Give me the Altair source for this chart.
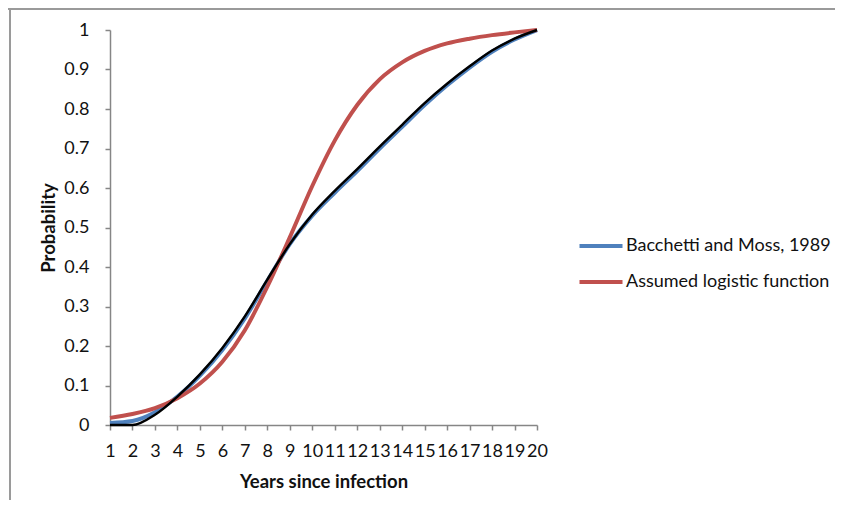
import altair as alt
import pandas as pd

years = list(range(1, 21))
bacchetti = [0.005, 0.010, 0.032, 0.072, 0.125, 0.190, 0.270, 0.365, 0.458, 0.530,
             0.588, 0.643, 0.700, 0.755, 0.810, 0.860, 0.905, 0.945, 0.976, 1.000]
logistic = [0.018, 0.028, 0.043, 0.068, 0.105, 0.160, 0.240, 0.350, 0.475, 0.605,
            0.720, 0.810, 0.875, 0.918, 0.947, 0.966, 0.978, 0.987, 0.994, 1.000]
fitted = [0.000, 0.000, 0.026, 0.072, 0.128, 0.195, 0.275, 0.368, 0.458, 0.533,
          0.593, 0.648, 0.705, 0.760, 0.815, 0.864, 0.908, 0.948, 0.978, 1.000]
series_names = ["Bacchetti and Moss, 1989", "Assumed logistic function"]
series_colors = ["#4F81BD", "#C0504D"]
y_ticks = [0, 0.1, 0.2, 0.3, 0.4, 0.5, 0.6, 0.7, 0.8, 0.9, 1]

df = pd.DataFrame({
    "year": years * 2,
    "p": bacchetti + logistic,
    "series": [series_names[0]] * 20 + [series_names[1]] * 20,
})
df_black = pd.DataFrame({"year": years, "p": fitted})

FONT = "Lato"
AX = "#868686"

x_enc = alt.X("year:Q", scale=alt.Scale(domain=[1, 20], nice=False, zero=False),
              axis=alt.Axis(values=years, format="d", title="Years since infection",
                            titleY=62, titleBaseline="alphabetic",
                            labelOverlap=False, labelFlush=False, labelPadding=12))
y_enc = alt.Y("p:Q", scale=alt.Scale(domain=[0, 1], nice=False),
              axis=alt.Axis(values=y_ticks, format=".1~f", labelOverlap=False,
                            title="Probability", titleX=-56, titleBaseline="alphabetic",
                            titleAngle=-90, labelPadding=16))

lines = alt.Chart(df).mark_line(strokeWidth=4, interpolate="monotone").encode(
    x=x_enc,
    y=y_enc,
    color=alt.Color("series:N",
                    scale=alt.Scale(domain=series_names, range=series_colors),
                    sort=series_names,
                    legend=alt.Legend(title=None, orient="none", legendX=467, legendY=192,
                                      symbolType="stroke", symbolSize=1850,
                                      symbolStrokeWidth=4, labelFontSize=18,
                                      labelFont=FONT, labelColor="#111", labelLimit=0,
                                      labelOffset=1, rowPadding=3)),
    order=alt.Order("series:N", sort="ascending"),
)

black = alt.Chart(df_black).mark_line(strokeWidth=2.5, interpolate="monotone",
                                      color="black").encode(x=x_enc, y=y_enc)

frame_top = alt.Chart(pd.DataFrame({"a": [0]})).mark_rule(color="#9a9a9a", strokeWidth=2).encode(
    x=alt.value(-102), x2=alt.value(725), y=alt.value(-21))
frame_left = alt.Chart(pd.DataFrame({"a": [0]})).mark_rule(color="#9a9a9a", strokeWidth=2).encode(
    x=alt.value(-100), y=alt.value(-22), y2=alt.value(475))

chart = alt.layer(frame_top, frame_left, lines, black).properties(
    width=427, height=395,
    autosize=alt.AutoSizeParams(type="none"),
    padding={"left": 102, "top": 22, "right": 298, "bottom": 75},
).configure_view(stroke=None).configure_axis(
    grid=False, domainColor=AX, domainWidth=1.5, ticks=True,
    tickColor=AX, tickSize=5, tickWidth=1.5,
    labelFont=FONT, labelFontSize=18, labelColor="#111",
    titleFont=FONT, titleFontSize=18.5, titleFontWeight="bold", titleColor="#111",
)

chart.save("out.html", embed_options={"renderer": "svg", "actions": False})
